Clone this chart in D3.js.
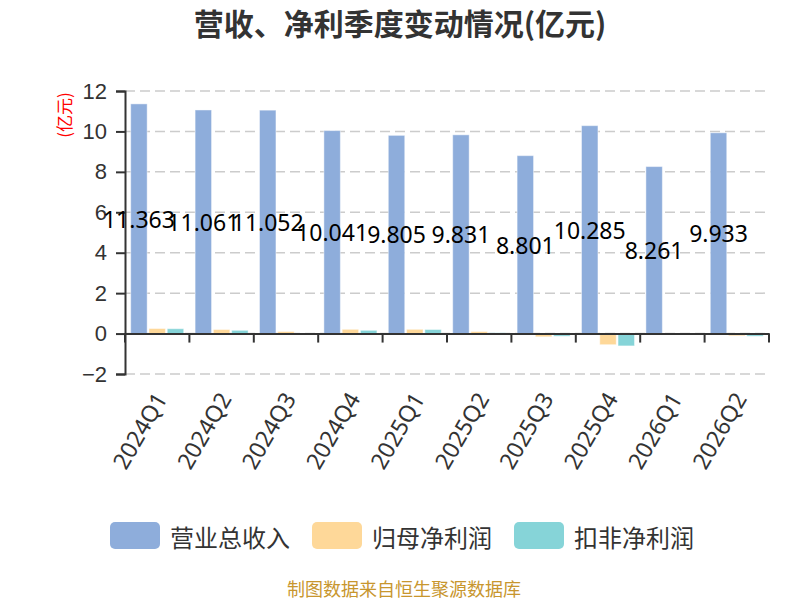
<!DOCTYPE html>
<html>
<head>
<meta charset="utf-8">
<script src="https://cdn.jsdelivr.net/npm/d3@7"></script>
<style>
  body { margin: 0; background: #fff; }
  svg { display: block; font-family: "Noto Sans", "Noto Sans CJK SC", sans-serif; }
</style>
</head>
<body>
<svg width="800" height="600"></svg>
<script>
var categories = ["2024Q1", "2024Q2", "2024Q3", "2024Q4", "2025Q1", "2025Q2", "2025Q3", "2025Q4", "2026Q1", "2026Q2"];
var revenue = [11.363, 11.061, 11.052, 10.041, 9.805, 9.831, 8.801, 10.285, 8.261, 9.933];
var netProfit = [0.25, 0.20, 0.10, 0.21, 0.21, 0.10, -0.16, -0.55, -0.02, -0.11];
var netProfitDeducted = [0.24, 0.16, 0.02, 0.16, 0.20, 0.04, -0.13, -0.61, -0.06, -0.13];
var seriesNames = ["营业总收入", "归母净利润", "扣非净利润"];
var seriesColors = ["#8eaddb", "#fed899", "#86d4d8"];
var yTicks = [-2, 0, 2, 4, 6, 8, 10, 12];

var svg = d3.select("svg"),
    margin = {top: 91, right: 31, bottom: 226, left: 125},
    width = +svg.attr("width") - margin.left - margin.right,
    height = +svg.attr("height") - margin.top - margin.bottom;

var series = [revenue, netProfit, netProfitDeducted];

var x = d3.scaleBand().domain(categories).range([0, width]);
var x1 = d3.scaleBand().domain(d3.range(3))
    .range([5.7, x.bandwidth() - 5.7]).paddingInner(0.1);
var y = d3.scaleLinear().domain([-2, 12]).range([height, 0]);

var g = svg.append("g")
    .attr("transform", "translate(" + margin.left + "," + margin.top + ")");

// title
svg.append("text")
    .attr("x", 400).attr("y", 22)
    .attr("text-anchor", "middle")
    .attr("dominant-baseline", "central")
    .style("font-family", "'Noto Sans CJK SC', sans-serif")
    .style("font-weight", "bold")
    .style("font-size", "30px")
    .style("fill", "#333")
    .text("营收、净利季度变动情况(亿元)");

// unit label
svg.append("text")
    .attr("transform", "translate(63,115) rotate(-90)")
    .attr("text-anchor", "middle")
    .attr("dominant-baseline", "central")
    .style("font-family", "'Noto Sans CJK SC', sans-serif")
    .style("font-size", "17px")
    .style("fill", "#ff0000")
    .text("(亿元)");

// grid
g.append("g")
  .selectAll("line")
  .data(yTicks)
  .enter().append("line")
    .attr("x1", 0).attr("x2", width)
    .attr("y1", function(d) { return y(d); })
    .attr("y2", function(d) { return y(d); })
    .style("stroke", "#cccccc")
    .style("stroke-width", 1.5)
    .style("stroke-dasharray", "10,5");

// bars
var groups = g.append("g").selectAll("g")
  .data(series)
  .enter().append("g")
    .style("fill", function(d, i) { return seriesColors[i]; });

groups.each(function(values, si) {
  d3.select(this).selectAll("rect")
    .data(values)
    .enter().append("rect")
      .attr("x", function(d, i) { return x(categories[i]) + x1(si); })
      .attr("y", function(d) { return y(Math.max(0, d)); })
      .attr("width", x1.bandwidth())
      .attr("height", function(d) { return Math.abs(y(d) - y(0)); })
      .style("stroke", "#ffffff")
      .style("stroke-opacity", 0.45)
      .style("stroke-width", 1);
});

// y axis
var yAxis = g.append("g")
    .attr("class", "axis axis--y")
    .call(d3.axisLeft(y).tickValues(yTicks).tickSize(9).tickPadding(9));
yAxis.select(".domain").style("stroke", "#333").style("stroke-width", 2);
yAxis.selectAll(".tick line").style("stroke", "#333").style("stroke-width", 2);
yAxis.selectAll(".tick text")
    .style("font-size", "22px")
    .style("fill", "#333");

// x axis on zero
var xAxis = g.append("g")
    .attr("class", "axis axis--x")
    .attr("transform", "translate(0," + y(0) + ")")
    .call(d3.axisBottom(x).tickSize(0).tickFormat(""));
xAxis.select(".domain").style("stroke", "#333").style("stroke-width", 2);
xAxis.selectAll(".tick").remove();

xAxis.selectAll(".boundary")
  .data(categories.concat([null]))
  .enter().append("line")
    .attr("x1", function(d, i) { return i * x.step(); })
    .attr("x2", function(d, i) { return i * x.step(); })
    .attr("y1", 0).attr("y2", 9)
    .style("stroke", "#333")
    .style("stroke-width", 2);

// category labels below the plot
g.append("g")
  .selectAll("text")
  .data(categories)
  .enter().append("text")
    .attr("transform", function(d) {
      return "translate(" + (x(d) + x.bandwidth() / 2 + 3) + "," + (height + 20) + ") rotate(-60)";
    })
    .attr("text-anchor", "end")
    .attr("dominant-baseline", "central")
    .style("font-size", "23px")
    .style("fill", "#333")
    .text(function(d) { return d; });

// value labels on revenue bars
g.append("g")
  .selectAll("text")
  .data(revenue)
  .enter().append("text")
    .attr("x", function(d, i) { return x(categories[i]) + x1(0) + x1.bandwidth() / 2; })
    .attr("y", function(d) { return y(d / 2); })
    .attr("text-anchor", "middle")
    .attr("dominant-baseline", "central")
    .style("font-size", "23px")
    .style("fill", "#000")
    .text(function(d) { return d3.format(".3f")(d); });

// legend
var legendX = [110, 312, 514];
var legend = svg.append("g").selectAll("g")
  .data(seriesNames)
  .enter().append("g")
    .attr("transform", function(d, i) { return "translate(" + legendX[i] + ",522)"; });

legend.append("rect")
    .attr("width", 50).attr("height", 27)
    .attr("rx", 5).attr("ry", 5)
    .style("fill", function(d, i) { return seriesColors[i]; });

legend.append("text")
    .attr("x", 60).attr("y", 14)
    .attr("dominant-baseline", "central")
    .style("font-family", "'Noto Sans CJK SC', sans-serif")
    .style("font-size", "24px")
    .style("fill", "#333")
    .text(function(d) { return d; });

// source
svg.append("text")
    .attr("x", 404).attr("y", 588)
    .attr("text-anchor", "middle")
    .attr("dominant-baseline", "central")
    .style("font-family", "'Noto Sans CJK SC', sans-serif")
    .style("font-size", "18px")
    .style("fill", "#c8962e")
    .text("制图数据来自恒生聚源数据库");
</script>
</body>
</html>
